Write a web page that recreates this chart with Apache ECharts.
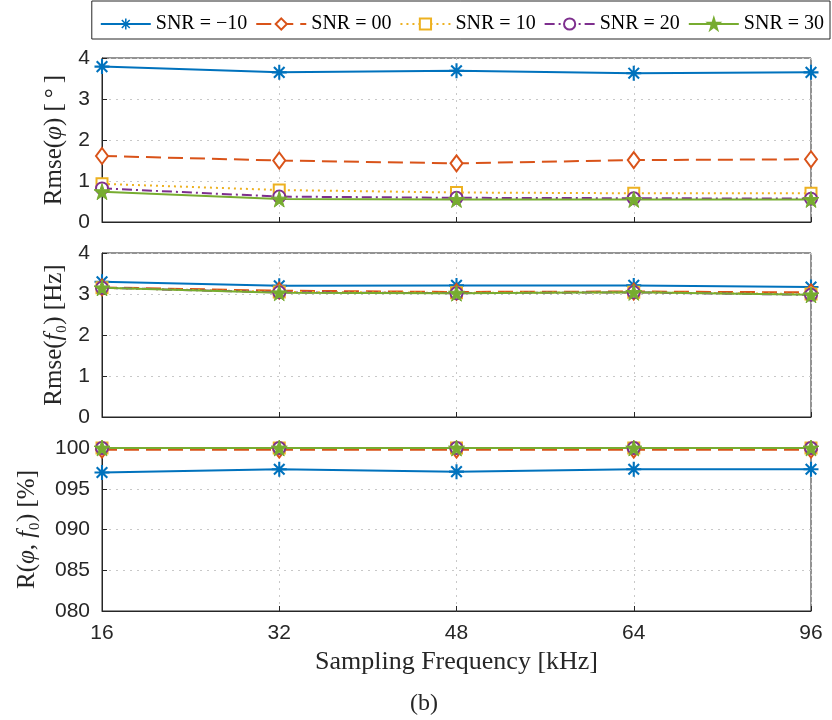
<!DOCTYPE html>
<html>
<head>
<meta charset="utf-8">
<script src="https://cdn.jsdelivr.net/npm/echarts@6/dist/echarts.min.js"></script>
<style>html,body{margin:0;padding:0;background:#fff}#c{width:832px;height:720px}</style>
</head>
<body>
<div id="c"></div>
<script>
// ---- data ----
const categories = ['16', '32', '48', '64', '96'];
const seriesNames = ['SNR = \u221210', 'SNR = 00', 'SNR = 10', 'SNR = 20', 'SNR = 30'];
// Rmse(phi) [deg]
const rmsePhiM10 = [3.79, 3.65, 3.69, 3.63, 3.65];
const rmsePhi00  = [1.61, 1.50, 1.43, 1.51, 1.53];
const rmsePhi10  = [0.93, 0.78, 0.72, 0.70, 0.70];
const rmsePhi20  = [0.82, 0.62, 0.59, 0.58, 0.57];
const rmsePhi30  = [0.74, 0.56, 0.55, 0.55, 0.55];
// Rmse(f0) [Hz]
const rmseF0M10 = [3.30, 3.20, 3.21, 3.21, 3.17];
const rmseF000  = [3.16, 3.08, 3.05, 3.06, 3.04];
const rmseF010  = [3.15, 3.05, 3.03, 3.04, 3.00];
const rmseF020  = [3.15, 3.04, 3.02, 3.04, 2.98];
const rmseF030  = [3.15, 3.03, 3.02, 3.04, 2.98];
// R(phi, f0) [%]
const rateM10 = [97.0, 97.4, 97.1, 97.4, 97.4];
const rate00  = [99.8, 99.8, 99.8, 99.8, 99.8];
const rate10  = [100, 100, 100, 100, 100];
const rate20  = [100, 100, 100, 100, 100];
const rate30  = [100, 100, 100, 100, 100];
const yTicksTop = [0, 1, 2, 3, 4];
const yTicksBottom = [80, 85, 90, 95, 100];

// ---- styles ----
const colors = ['#0072BD', '#D95319', '#EDB120', '#7E2F8E', '#77AC30'];
const dashes = ['solid', [15, 7], [2, 4], [10, 4, 2, 4], 'solid'];
const asterisk = 'path://M-1.4,-10L1.4,-10L1.4,10L-1.4,10Z M-10,-1.4L10,-1.4L10,1.4L-10,1.4Z M-6.08,-8.06L8.06,6.08L6.08,8.06L-8.06,-6.08Z M6.08,-8.06L8.06,-6.08L-6.08,8.06L-8.06,6.08Z';
const star = 'path://M0,-10L2.245,-3.09L9.51,-3.09L3.633,1.18L5.88,8.09L0,3.82L-5.88,8.09L-3.633,1.18L-9.51,-3.09L-2.245,-3.09Z';
const symbols = [asterisk, 'diamond', 'rect', 'circle', star];
const symbolSizes = [15, [12, 16], 11, 12, 16];

const panels = [
  [rmsePhiM10, rmsePhi00, rmsePhi10, rmsePhi20, rmsePhi30],
  [rmseF0M10, rmseF000, rmseF010, rmseF020, rmseF030],
  [rateM10, rate00, rate10, rate20, rate30]
];

const txt = '#262626';
const sans = 'Liberation Sans, Arial, sans-serif';
const serif = 'Liberation Serif, Times New Roman, serif';

const grids = [
  { left: 102, right: 21, top: 58, height: 164 },
  { left: 102, right: 21, top: 253, height: 164 },
  { left: 102, right: 21, top: 448, height: 163 }
].map(g => Object.assign(g, { show: true, borderColor: txt, borderWidth: 1, backgroundColor: '#fff' }));

const xAxes = [0, 1, 2].map(i => ({
  type: 'category', gridIndex: i, data: categories, boundaryGap: false,
  axisLine: { show: true, lineStyle: { color: txt, width: 1 } },
  axisTick: { show: true, inside: true, length: 5, lineStyle: { color: txt } },
  axisLabel: { show: i === 2, fontFamily: sans, fontSize: 21, color: txt, margin: 12 },
  splitLine: { show: true, lineStyle: { type: [2, 5], color: '#c8c8c8' } },
  name: i === 2 ? 'Sampling Frequency [kHz]' : '',
  nameLocation: 'middle', nameGap: 38,
  nameTextStyle: { fontFamily: serif, fontSize: 26, color: txt }
}));

const it = { fontFamily: serif, fontSize: 25, fontStyle: 'italic', color: txt };
const yNames = ['Rmse({it|\u03C6}) [\u2009\u00B0\u2009]', 'Rmse({it|f}\u2080) [Hz]', 'R({it|\u03C6}, {it|f}\u2080) [%]'];
const yGaps = [30, 32, 62];
const yAxes = [0, 1, 2].map(i => {
  const ticks = i === 2 ? yTicksBottom : yTicksTop;
  return {
    type: 'value', gridIndex: i,
    min: ticks[0], max: ticks[ticks.length - 1], interval: ticks[1] - ticks[0],
    axisLine: { show: true, lineStyle: { color: txt, width: 1 } },
    axisTick: { show: true, inside: true, length: 5, lineStyle: { color: txt } },
    axisLabel: {
      fontFamily: sans, fontSize: 21, color: txt, margin: 12,
      formatter: v => i === 2 ? String(v).padStart(3, '0') : String(v)
    },
    splitLine: { show: true, lineStyle: { type: [2, 5], color: '#c8c8c8' } },
    name: yNames[i], nameLocation: 'middle', nameRotate: 90, nameGap: yGaps[i],
    nameTextStyle: { fontFamily: serif, fontSize: 25, color: txt, rich: { it: it } }
  };
});

const series = [];
panels.forEach((panel, p) => {
  panel.forEach((vals, s) => {
    const c = colors[s];
    const hollow = s === 1 || s === 2 || s === 3;
    series.push({
      type: 'line', name: seriesNames[s], xAxisIndex: p, yAxisIndex: p,
      data: vals, color: c, clip: false,
      symbol: symbols[s], symbolSize: symbolSizes[s], showAllSymbol: true,
      lineStyle: { color: c, width: 2, type: dashes[s] },
      itemStyle: hollow ? { color: '#fff', borderColor: c, borderWidth: 2 }
                        : { color: c, borderColor: c, borderWidth: s === 4 ? 1 : 0 },
      emphasis: { disabled: true },
      animation: false
    });
  });
});

const chart = echarts.init(document.getElementById('c'), null, { renderer: 'canvas' });
chart.setOption({
  animation: false,
  backgroundColor: '#fff',
  grid: grids,
  xAxis: xAxes,
  yAxis: yAxes,
  legend: {
    data: seriesNames, right: 2, top: 1,
    orient: 'horizontal',
    backgroundColor: '#fff', borderColor: txt, borderWidth: 1,
    padding: [13, 6, 5, 8],
    itemWidth: 50, itemHeight: 14, itemGap: 8,
    textStyle: { fontFamily: serif, fontSize: 20, color: '#000' },
    selectedMode: false
  },
  graphic: [{
    type: 'text', left: 410, top: 692,
    style: { text: '(b)', font: '24px ' + serif, fill: txt }
  }],
  series: series
});
</script>
</body>
</html>
